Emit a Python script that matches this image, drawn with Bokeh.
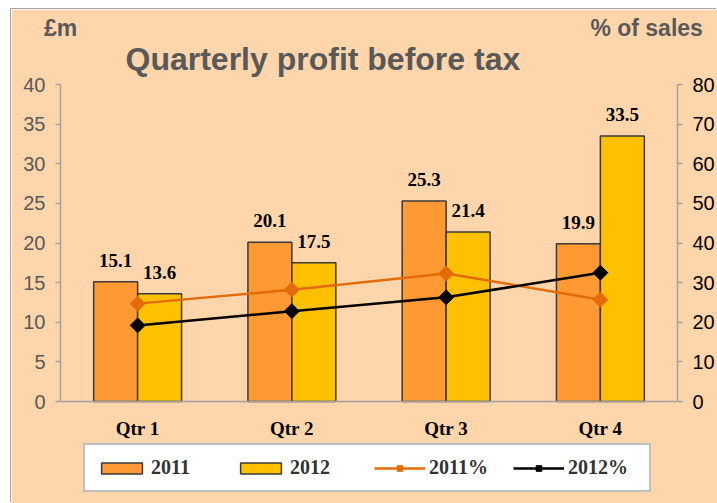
import math
from bokeh.plotting import figure
from bokeh.models import (FactorRange, Range1d, LinearAxis, ColumnDataSource,
                          LabelSet, Title, Legend, LegendItem, FixedTicker)
from bokeh.transform import dodge
from bokeh.core.properties import value
from bokeh.embed import file_html
from bokeh.resources import INLINE

# ---- data ----
quarters = ["Qtr 1", "Qtr 2", "Qtr 3", "Qtr 4"]
profit_2011 = [15.1, 20.1, 25.3, 19.9]
profit_2012 = [13.6, 17.5, 21.4, 33.5]
pct_2011 = [24.7, 28.2, 32.3, 25.7]
pct_2012 = [19.2, 22.8, 26.3, 32.5]
left_ticks = [0, 5, 10, 15, 20, 25, 30, 35, 40]
right_ticks = [0, 10, 20, 30, 40, 50, 60, 70, 80]
series_names = ["2011", "2012", "2011%", "2012%"]
title_text = "Quarterly profit before tax"
left_unit = "£m"
right_unit = "% of sales"

BG = "#FFD6AB"
SANS = "Liberation Sans"
SERIF = "Liberation Serif"

# the frame extends below zero to make room for the category labels and legend
Y_LOW = -12.87

src = ColumnDataSource(dict(
    cat=quarters,
    p11=profit_2011, p12=profit_2012,
    t11=["%.1f" % v for v in profit_2011],
    t12=["%.1f" % v for v in profit_2012],
    c11=pct_2011, c12=pct_2012,
))

p = figure(width=706, height=494, x_range=FactorRange(*quarters, range_padding=0),
           y_range=Range1d(Y_LOW, 40), output_backend="svg", toolbar_location=None,
           title=None, min_border_left=49, min_border_right=37, min_border_top=75,
           min_border_bottom=0, margin=(9, 0, 0, 11),
           styles={"box-shadow": "-1px -1px 0 0 #A6A6A6"})
p.border_fill_color = BG
p.background_fill_color = BG
p.outline_line_color = BG
p.outline_line_width = 2
p.xgrid.visible = False
p.ygrid.visible = False

p.extra_y_ranges = {"pct": Range1d(2 * Y_LOW, 80)}

# left axis
ya = p.yaxis[0]
ya.ticker = FixedTicker(ticks=left_ticks)
ya.bounds = (0, 40)
ya.axis_line_color = "#A0A0A0"
ya.axis_line_width = 1.5
ya.major_tick_line_color = "#A0A0A0"
ya.major_tick_line_width = 1.5
ya.major_tick_in = 0
ya.major_tick_out = 5
ya.minor_tick_line_color = None
ya.major_label_standoff = 10
ya.major_label_text_font = SANS
ya.major_label_text_font_size = "20px"
ya.major_label_text_color = "#595959"

# right axis
ra = LinearAxis(y_range_name="pct", ticker=FixedTicker(ticks=right_ticks), bounds=(0, 80))
ra.axis_line_color = "#A0A0A0"
ra.axis_line_width = 1.5
ra.major_tick_line_color = "#A0A0A0"
ra.major_tick_line_width = 1.5
ra.major_tick_in = 0
ra.major_tick_out = 5
ra.minor_tick_line_color = None
ra.major_label_standoff = 10
ra.major_label_text_font = SANS
ra.major_label_text_font_size = "20px"
ra.major_label_text_color = "#000000"
p.add_layout(ra, "right")

# x axis, drawn at y = 0
xa = p.xaxis[0]
xa.fixed_location = 0
xa.axis_line_color = "#A0A0A0"
xa.axis_line_width = 1.5
xa.major_tick_line_color = None
xa.minor_tick_line_color = None
xa.major_label_standoff = 10
xa.major_label_text_font = SERIF
xa.major_label_text_font_style = "bold"
xa.major_label_text_font_size = "19px"
xa.major_label_text_color = "#000000"

bw = 0.285
off = bw / 2
b11 = p.vbar(x=dodge("cat", -off, range=p.x_range), top="p11", width=bw, source=src,
             fill_color="#FF9933", line_color="#3A3A3A", line_width=1.5)
b12 = p.vbar(x=dodge("cat", off, range=p.x_range), top="p12", width=bw, source=src,
             fill_color="#FFC000", line_color="#3A3A3A", line_width=1.5)

l11 = p.line(x="cat", y="c11", source=src, y_range_name="pct", line_color="#E36C09", line_width=2.5)
s11 = p.scatter(x="cat", y="c11", source=src, y_range_name="pct", marker="square",
                angle=math.pi / 4, size=10.5, fill_color="#E36C09", line_color="#E36C09")
l12 = p.line(x="cat", y="c12", source=src, y_range_name="pct", line_color="#000000", line_width=2.5)
s12 = p.scatter(x="cat", y="c12", source=src, y_range_name="pct", marker="square",
                angle=math.pi / 4, size=10.5, fill_color="#000000", line_color="#000000")

for xf, yf, tf in ((-off, "p11", "t11"), (off, "p12", "t12")):
    ls = LabelSet(x=dodge("cat", xf, range=p.x_range), y=yf, text=tf, source=src,
                  text_align="center", text_baseline="alphabetic", y_offset=15,
                  text_font=value(SERIF), text_font_style="bold",
                  text_font_size="19px", text_color="#000000")
    p.add_layout(ls)

# main title (nearest the frame)
p.add_layout(Title(text=title_text, align="left", offset=65, standoff=15,
                   text_font=SANS, text_font_style="bold", text_font_size="32px",
                   text_color="#595959"), "above")

# unit captions as a label-only axis above the title (synthetic x positions)
ta = LinearAxis(ticker=FixedTicker(ticks=[0, 3.8]),
                major_label_overrides={0: left_unit, 3.8: right_unit})
ta.axis_line_color = None
ta.major_tick_line_color = None
ta.minor_tick_line_color = None
ta.major_label_standoff = -15
ta.major_label_text_font = SANS
ta.major_label_text_font_style = "bold"
ta.major_label_text_font_size = "23px"
ta.major_label_text_color = "#595959"
p.add_layout(ta, "above")

legend = Legend(items=[
    LegendItem(label=series_names[0], renderers=[b11]),
    LegendItem(label=series_names[1], renderers=[b12]),
    LegendItem(label=series_names[2], renderers=[l11, s11]),
    LegendItem(label=series_names[3], renderers=[l12, s12]),
], orientation="horizontal", location=(23, 11))
legend.glyph_width = 51
legend.glyph_height = 14
legend.label_width = 70
legend.label_standoff = 4
legend.spacing = 14
legend.padding = 11
legend.margin = 0
legend.label_text_font = SERIF
legend.label_text_font_style = "bold"
legend.label_text_font_size = "20px"
legend.label_text_color = "#333333"
legend.border_line_color = "#7F7F7F"
legend.border_line_width = 2
legend.background_fill_color = "#FFFFFF"
legend.background_fill_alpha = 1
p.add_layout(legend)

open("out.html", "w").write(file_html(p, INLINE))
